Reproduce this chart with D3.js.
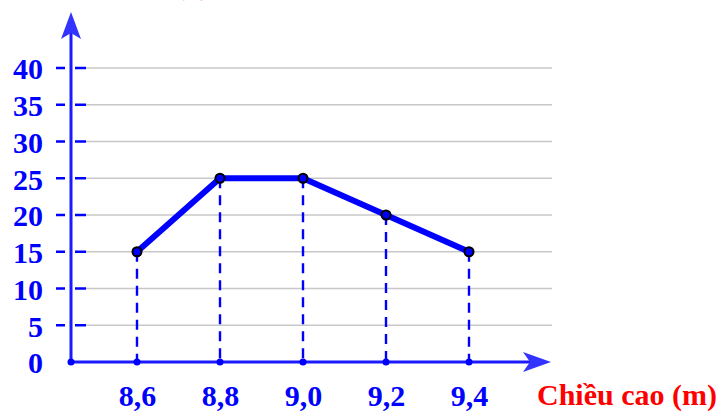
<!DOCTYPE html>
<html>
<head>
<meta charset="utf-8">
<script src="https://cdn.jsdelivr.net/npm/d3@7"></script>
<style>
  html, body { margin: 0; padding: 0; background: #fff; }
  svg { display: block; }
  text { font-family: "Liberation Serif", "Times New Roman", serif; font-weight: bold; }
</style>
</head>
<body>
<svg id="chart" width="720" height="413"></svg>
<script>
// Tree heights (m) and how many trees fall in each
const heights = [8.6, 8.8, 9.0, 9.2, 9.4];
const counts = [15, 25, 25, 20, 15];
const yTicks = [0, 5, 10, 15, 20, 25, 30, 35, 40];
const xTitle = "Chiều cao (m)";
const yTitle = "Tần số (n)";

const svg = d3.select("#chart");
const blue = "#0000ff";
const axisBlue = "#1a1aff";

const originX = 71, originY = 362;
const gridEnd = 552;

const x = d3.scaleLinear().domain([8.6, 9.4]).range([137, 469]);
const y = d3.scaleLinear().domain([0, 40]).range([originY, 68]);

// horizontal grid lines
svg.append("g").selectAll("line")
  .data(yTicks.filter(d => d > 0))
  .join("line")
  .attr("x1", 86).attr("x2", gridEnd)
  .attr("y1", d => y(d)).attr("y2", d => y(d))
  .attr("stroke", "#c8c8c8").attr("stroke-width", 1.5);

// y tick labels via axis generator
const yAxis = d3.axisLeft(y).tickValues(yTicks).tickSize(0).tickPadding(28);
const gy = svg.append("g").attr("transform", `translate(${originX},0)`).call(yAxis);
gy.select(".domain").remove();
gy.selectAll("text")
  .attr("fill", blue).attr("font-size", 30)
  .attr("font-family", "Liberation Serif, serif").attr("font-weight", "bold")
  .attr("dy", "0.36em");

// dashed tick marks crossing the y axis
svg.append("g").selectAll("line")
  .data(yTicks.filter(d => d > 0))
  .join("line")
  .attr("x1", 56).attr("x2", 86)
  .attr("y1", d => y(d)).attr("y2", d => y(d))
  .attr("stroke", blue).attr("stroke-width", 2.7)
  .attr("stroke-dasharray", "9,10,11");

// x tick labels via axis generator
const xAxis = d3.axisBottom(x).tickValues(heights).tickSize(0).tickPadding(23)
  .tickFormat(d => d.toFixed(1).replace(".", ","));
const gx = svg.append("g").attr("transform", `translate(0,${originY})`).call(xAxis);
gx.select(".domain").remove();
gx.selectAll("text")
  .attr("fill", blue).attr("font-size", 30)
  .attr("font-family", "Liberation Serif, serif").attr("font-weight", "bold");

// axes with arrow heads
svg.append("line").attr("x1", originX).attr("x2", originX)
  .attr("y1", originY).attr("y2", 30)
  .attr("stroke", axisBlue).attr("stroke-width", 3);
svg.append("path")
  .attr("d", `M${originX},12 L${originX + 10},39 L${originX},33 L${originX - 10},39 Z`)
  .attr("fill", "#3333ff");
svg.append("line").attr("x1", originX).attr("x2", 540)
  .attr("y1", originY).attr("y2", originY)
  .attr("stroke", axisBlue).attr("stroke-width", 3);
svg.append("path")
  .attr("d", `M551,${originY} L523,${originY - 10} L530,${originY} L523,${originY + 10} Z`)
  .attr("fill", "#3333ff");

// dashed drop lines from each point to the x axis
svg.append("g").selectAll("line")
  .data(heights)
  .join("line")
  .attr("x1", d => x(d)).attr("x2", d => x(d))
  .attr("y1", (d, i) => y(counts[i])).attr("y2", originY)
  .attr("stroke", blue).attr("stroke-width", 2.4)
  .attr("stroke-dasharray", "10,7");

// small dots on the x axis
svg.append("g").selectAll("circle")
  .data([null, ...heights])
  .join("circle")
  .attr("cx", d => d === null ? originX : x(d))
  .attr("cy", originY).attr("r", 3.5)
  .attr("fill", blue);

// frequency polygon
const line = d3.line().x(d => x(d[0])).y(d => y(d[1]));
const pts = heights.map((h, i) => [h, counts[i]]);
svg.append("path").datum(pts)
  .attr("d", line)
  .attr("fill", "none").attr("stroke", blue)
  .attr("stroke-width", 6).attr("stroke-linejoin", "round");

svg.append("g").selectAll("circle")
  .data(pts)
  .join("circle")
  .attr("cx", d => x(d[0])).attr("cy", d => y(d[1])).attr("r", 4.5)
  .attr("fill", blue).attr("stroke", "#000").attr("stroke-width", 2);

// axis titles
svg.append("text").attr("x", 717).attr("y", 405)
  .attr("text-anchor", "end").attr("fill", "#ff0000").attr("font-size", 30)
  .text(xTitle);
svg.append("text").attr("x", 92).attr("y", -5)
  .attr("fill", "#ff0000").attr("font-size", 27).attr("opacity", 0.45)
  .text(yTitle);
</script>
</body>
</html>
